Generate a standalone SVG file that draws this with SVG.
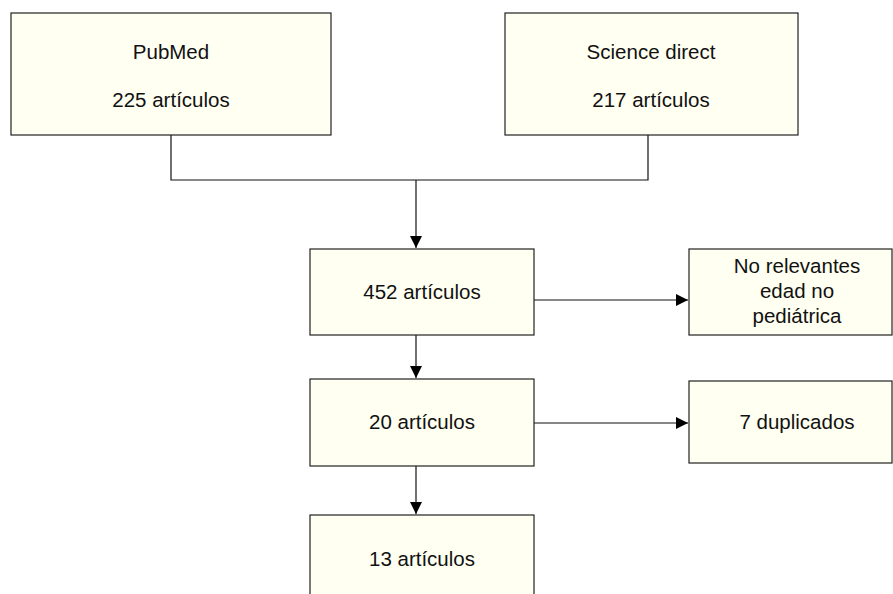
<svg xmlns="http://www.w3.org/2000/svg" width="893" height="594" viewBox="0 0 893 594">
<style>
.box{fill:#fffff2;stroke:#222;stroke-width:1.2}
.t{font-family:"Liberation Sans",Arial,sans-serif;font-size:20.5px;fill:#111;text-anchor:middle}
.c{fill:none;stroke:#111;stroke-width:1.2}
</style>
<defs>
<marker id="ah" viewBox="0 0 12 12" refX="12" refY="6" markerWidth="12" markerHeight="12" markerUnits="userSpaceOnUse" orient="auto">
<path d="M0,0 L12,6 L0,12 Z" fill="#000"/>
</marker>
</defs>
<rect width="893" height="594" fill="#fff"/>
<g id="connectors">
<polyline class="c" points="171,135 171,180 648,180 648,135"/>
<line class="c" x1="416" y1="180" x2="416" y2="248" marker-end="url(#ah)"/>
<line class="c" x1="534" y1="300" x2="688" y2="300" marker-end="url(#ah)"/>
<line class="c" x1="416" y1="335" x2="416" y2="378" marker-end="url(#ah)"/>
<line class="c" x1="534" y1="423" x2="688" y2="423" marker-end="url(#ah)"/>
<line class="c" x1="416" y1="466" x2="416" y2="514" marker-end="url(#ah)"/>
</g>
<g id="pubmed">
<rect class="box" x="11" y="13" width="320" height="122"/>
<text class="t" x="171" y="59">PubMed</text>
<text class="t" x="171" y="107">225 artículos</text>
</g>
<g id="sciencedirect">
<rect class="box" x="505" y="13" width="293" height="122"/>
<text class="t" x="651" y="59">Science direct</text>
<text class="t" x="651" y="107">217 artículos</text>
</g>
<g id="n452">
<rect class="box" x="310" y="249" width="224" height="86"/>
<text class="t" x="422" y="299">452 artículos</text>
</g>
<g id="norelevantes">
<rect class="box" x="689" y="249" width="203" height="86"/>
<text class="t" x="797" y="273">No relevantes</text>
<text class="t" x="797" y="298">edad no</text>
<text class="t" x="797" y="323">pediátrica</text>
</g>
<g id="n20">
<rect class="box" x="310" y="379" width="224" height="87"/>
<text class="t" x="422" y="429">20 artículos</text>
</g>
<g id="duplicados">
<rect class="box" x="689" y="381" width="203" height="82"/>
<text class="t" x="797" y="429">7 duplicados</text>
</g>
<g id="n13">
<rect class="box" x="310" y="515" width="224" height="100"/>
<text class="t" x="422" y="566">13 artículos</text>
</g>
</svg>
